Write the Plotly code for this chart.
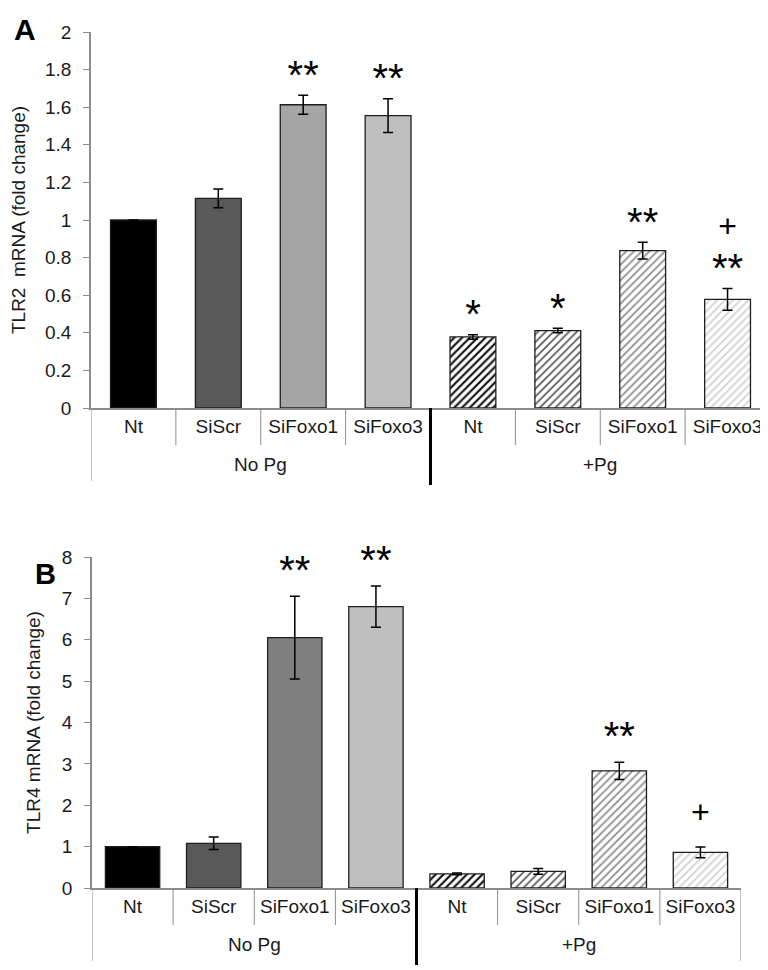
import plotly.graph_objects as go

# ---------------- data ----------------
groups = ["No Pg"] * 4 + ["+Pg"] * 4
conditions = ["Nt", "SiScr", "SiFoxo1", "SiFoxo3"] * 2

tlr2_values = [1.0, 1.115, 1.613, 1.555, 0.378, 0.412, 0.837, 0.578]
tlr2_errors = [0.0, 0.05, 0.05, 0.09, 0.012, 0.012, 0.045, 0.058]
tlr2_stars = ["", "", "**", "**", "*", "*", "**", "**"]
tlr2_plus = ["", "", "", "", "", "", "", "+"]

tlr4_values = [1.0, 1.08, 6.05, 6.8, 0.34, 0.40, 2.83, 0.86]
tlr4_errors = [0.0, 0.15, 1.0, 0.5, 0.02, 0.07, 0.21, 0.13]
tlr4_stars = ["", "", "**", "**", "", "", "**", ""]
tlr4_plus = ["", "", "", "", "", "", "", "+"]

# ---------------- styles ----------------
W, H = 768, 970
FONT = "Liberation Sans, Arial, sans-serif"
AXIS_GREY = "#8c8c8c"
TXT = "#1a1a1a"

top_solid = ["#000000", "#595959", "#a5a5a5", "#bfbfbf"]
bot_solid = ["#000000", "#595959", "#7f7f7f", "#bfbfbf"]
hatch_fg = ["#111111", "#5a5a5a", "#8e8e8e", "#d2d2d2"]
hatch_solidity = [0.4, 0.32, 0.32, 0.32]

STAR_PX = 40
PLUS_PX = 32
BASE_PX = 35
TWO_LINE_SHIFT = 22.7  # px: lift of a two-line label so its lower line sits like a one-line label

panels = [
    dict(vals=tlr2_values, errs=tlr2_errors, stars=tlr2_stars, plus=tlr2_plus,
         solids=top_solid, dom_x=[83 / W, 762 / W], dom_y=[1 - 400 / H, 1 - 24 / H],
         rng=[0, 2], dtick=0.2, width=0.54, title="TLR2\u00a0 mRNA (fold change)",
         star_pad=15, plus_pad=33, letter="A", lsize=30, lx=16.5, ly=21,
         tickfmt=".1~f"),
    dict(vals=tlr4_values, errs=tlr4_errors, stars=tlr4_stars, plus=tlr4_plus,
         solids=bot_solid, dom_x=[84 / W, 733 / W], dom_y=[1 - 880 / H, 1 - 549 / H],
         rng=[0, 8], dtick=1, width=0.67, title="TLR4 mRNA (fold change)",
         star_pad=21, plus_pad=33, letter="B", lsize=29, lx=37, ly=566,
         tickfmt="d"),
]

CAT_DEPTH = 37     # px below axis for category separators
GROUP_DEPTH = 73   # px below axis for group separators
GROUP_LABEL = 56   # px below axis for group label
THICK_DEPTH = 77

fig = go.Figure()
layout = dict(
    width=W, height=H, margin=dict(l=0, r=0, t=0, b=0),
    paper_bgcolor="white", plot_bgcolor="white", showlegend=False,
    font=dict(family=FONT, size=19, color=TXT), barmode="overlay",
)
shapes = []
annotations = []

n = len(conditions)
xpos = list(range(n))
group_names = []
for g in groups:
    if g not in group_names:
        group_names.append(g)


def span(txt, px):
    return f"<span style='font-size:{px}px'>{txt}</span>"


for i, p in enumerate(panels, start=1):
    xa = "x" if i == 1 else f"x{i}"
    ya = "y" if i == 1 else f"y{i}"
    fills = p["solids"] + ["white"] * 4
    for k in range(n):
        hatched = k >= 4
        fig.add_trace(go.Bar(
            x=[xpos[k]], y=[p["vals"][k]], width=p["width"], xaxis=xa, yaxis=ya,
            marker=dict(
                color=fills[k],
                line=dict(color="#1e1e1e", width=1.3),
                pattern=dict(shape="/" if hatched else "",
                             fgcolor=hatch_fg[k - 4] if hatched else "black",
                             bgcolor="white", fgopacity=1, size=5.5,
                             solidity=hatch_solidity[k - 4] if hatched else 0.3,
                             fillmode="overlay"),
            ),
            error_y=dict(type="data", array=[p["errs"][k]], visible=True, color="black",
                         thickness=1.5, width=5),
        ))
    plot_h_px = (p["dom_y"][1] - p["dom_y"][0]) * H
    px_unit = plot_h_px / (p["rng"][1] - p["rng"][0])
    labels, ly = [], []
    for v, e, s, pl in zip(p["vals"], p["errs"], p["stars"], p["plus"]):
        t = v + e
        if s and pl:
            labels.append(span(pl, PLUS_PX) + "<br>" + span(s, STAR_PX))
            ly.append(t + (p["star_pad"] + TWO_LINE_SHIFT) / px_unit)
        elif s:
            labels.append(span(s, STAR_PX))
            ly.append(t + p["star_pad"] / px_unit)
        elif pl:
            labels.append(span(pl, PLUS_PX))
            ly.append(t + p["plus_pad"] / px_unit)
        else:
            labels.append("")
            ly.append(t)
    fig.add_trace(go.Scatter(
        x=xpos, y=ly, text=labels, mode="text", textposition="middle center",
        textfont=dict(size=BASE_PX, color="black", family=FONT), xaxis=xa, yaxis=ya,
        hoverinfo="skip", cliponaxis=False,
    ))
    axkey = "xaxis" if i == 1 else f"xaxis{i}"
    aykey = "yaxis" if i == 1 else f"yaxis{i}"
    layout[axkey] = dict(
        domain=p["dom_x"], anchor=ya, range=[-0.5, n - 0.5],
        tickmode="array", tickvals=xpos, ticktext=conditions,
        showline=True, linecolor=AXIS_GREY, linewidth=1.5,
        ticks="", ticklabelstandoff=0,
        showgrid=False, zeroline=False, automargin=False, fixedrange=True,
        tickfont=dict(size=19, color=TXT, family=FONT),
    )
    layout[aykey] = dict(
        domain=p["dom_y"], anchor=xa, range=p["rng"], dtick=p["dtick"], tick0=0,
        showline=True, linecolor=AXIS_GREY, linewidth=1.5,
        ticks="outside", ticklen=6, tickcolor=AXIS_GREY, ticklabelstandoff=8,
        showgrid=False, zeroline=False, automargin=False, tickformat=p["tickfmt"],
        tickfont=dict(size=19, color=TXT, family=FONT),
        title=dict(text=p["title"], font=dict(size=19, color=TXT, family=FONT), standoff=16),
    )
    # separators below the axis (category boundaries and group boundaries)
    for k in range(n + 1):
        b = k - 0.5
        is_group_edge = k == 0 or k == n or groups[k] != groups[k - 1]
        depth = GROUP_DEPTH if is_group_edge else CAT_DEPTH
        shapes.append(dict(
            type="line", xref=xa, yref=f"{ya} domain", x0=b, x1=b,
            y0=0, y1=-depth / plot_h_px, line=dict(color=AXIS_GREY, width=1),
        ))
        if 0 < k < n and is_group_edge:
            shapes.append(dict(
                type="line", xref=xa, yref=f"{ya} domain", x0=b, x1=b,
                y0=0, y1=-THICK_DEPTH / plot_h_px, line=dict(color="black", width=3),
            ))
    for g in group_names:
        idx = [k for k in range(n) if groups[k] == g]
        annotations.append(dict(
            text=g, xref=xa, yref=f"{ya} domain", x=sum(idx) / len(idx),
            y=-GROUP_LABEL / plot_h_px, xanchor="center", yanchor="middle",
            showarrow=False, font=dict(size=19, color=TXT, family=FONT),
        ))
    annotations.append(dict(
        text=f"<b>{p['letter']}</b>", xref="paper", yref="paper",
        x=p["lx"] / W, y=1 - p["ly"] / H, xanchor="center", yanchor="middle",
        showarrow=False, font=dict(size=p["lsize"], color="black", family=FONT),
    ))

layout["shapes"] = shapes
layout["annotations"] = annotations
fig.update_layout(**layout)
fig.write_html("out.html")
